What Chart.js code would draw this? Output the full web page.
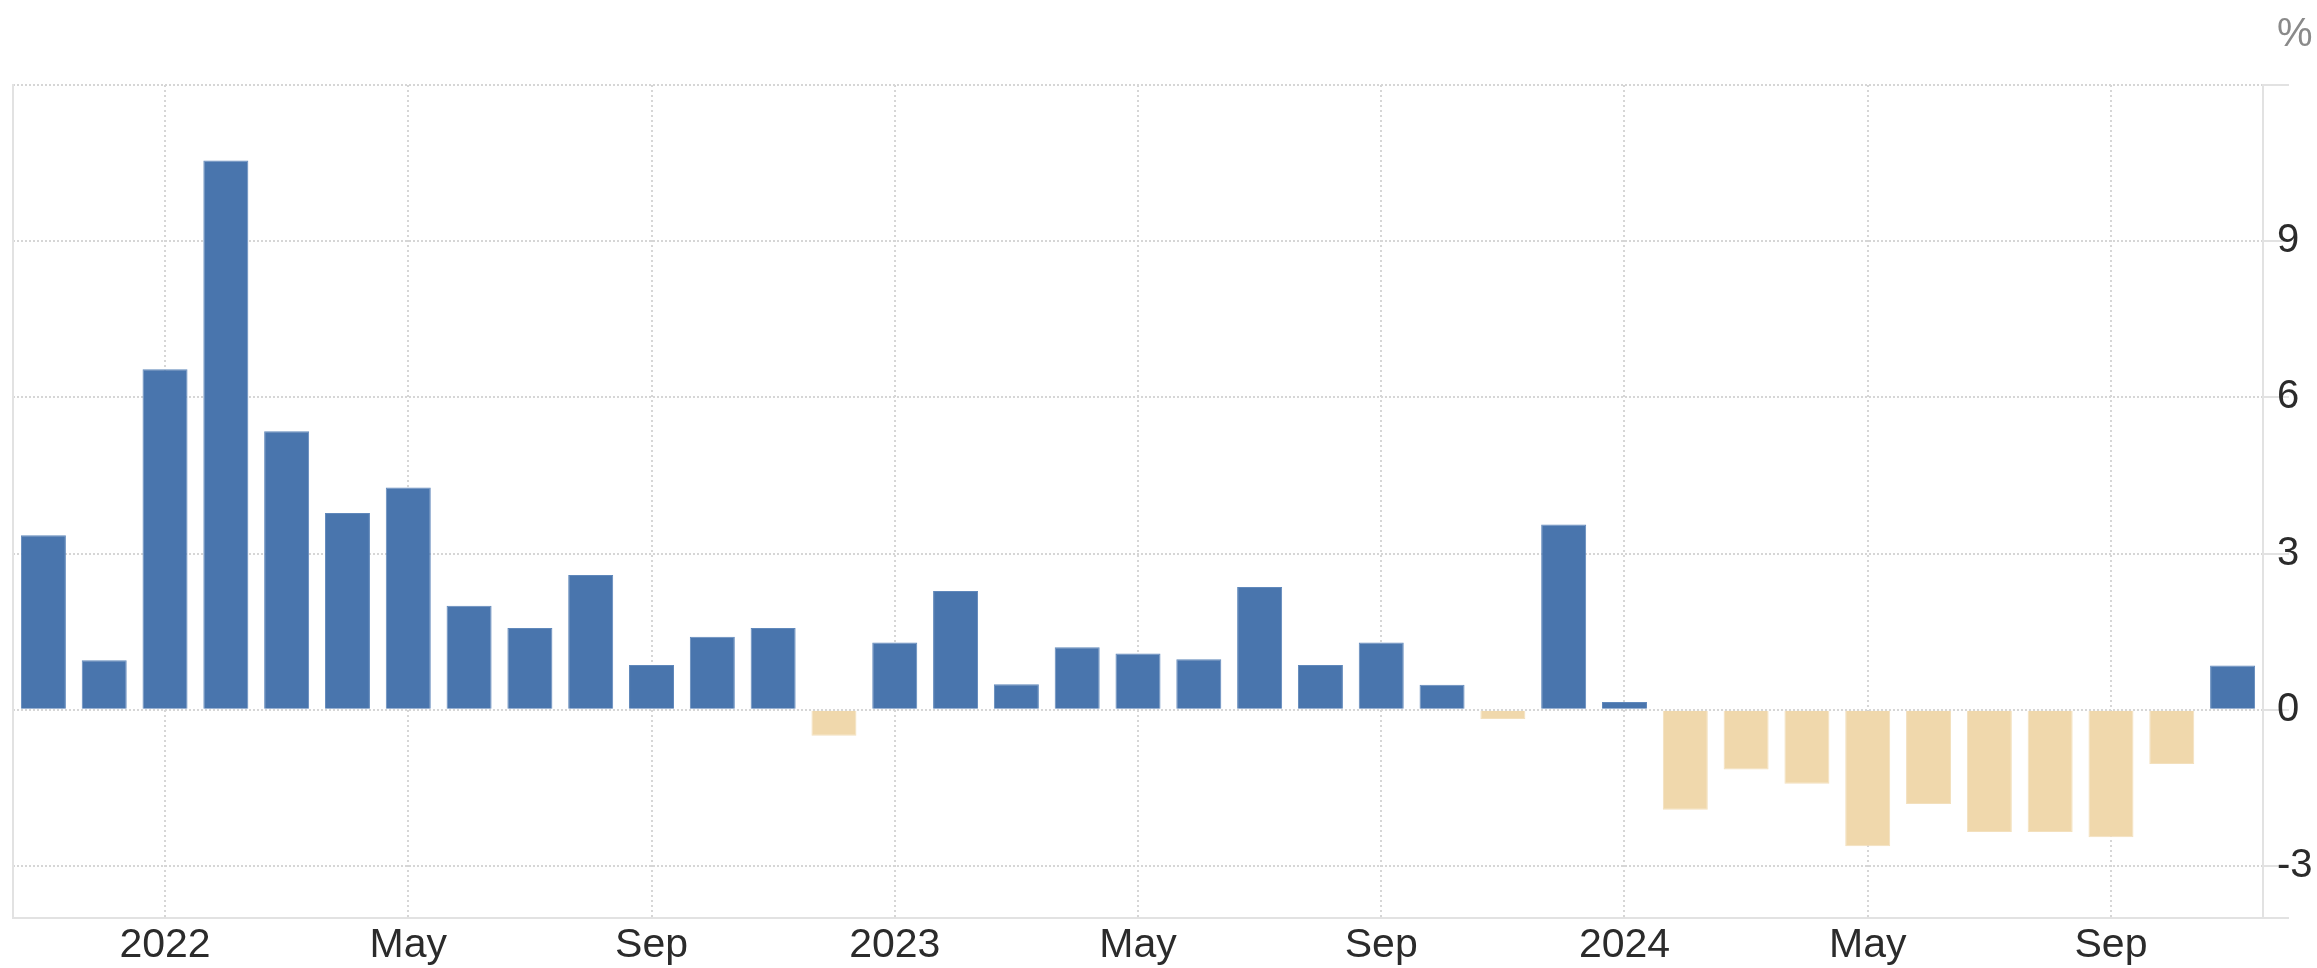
<!DOCTYPE html>
<html>
<head>
<meta charset="utf-8">
<script src="https://cdn.jsdelivr.net/npm/chart.js@4.4.1/dist/chart.umd.min.js"></script>
<style>
  body { margin: 0; background: #fff; }
  canvas { display: block; }
</style>
</head>
<body>
<canvas id="chart" width="2317" height="968"></canvas>
<script>
// monthly change, Nov 2021 .. Nov 2024
var months = [
  '2021-11', '2021-12',
  '2022-01', '2022-02', '2022-03', '2022-04', '2022-05', '2022-06',
  '2022-07', '2022-08', '2022-09', '2022-10', '2022-11', '2022-12',
  '2023-01', '2023-02', '2023-03', '2023-04', '2023-05', '2023-06',
  '2023-07', '2023-08', '2023-09', '2023-10', '2023-11', '2023-12',
  '2024-01', '2024-02', '2024-03', '2024-04', '2024-05', '2024-06',
  '2024-07', '2024-08', '2024-09', '2024-10', '2024-11'
];
var values = [
  3.35, 0.95,
  6.54, 10.55, 5.35, 3.78, 4.27, 2.0,
  1.57, 2.59, 0.86, 1.4, 1.57, -0.5,
  1.29, 2.28, 0.49, 1.2, 1.08, 0.97,
  2.36, 0.86, 1.29, 0.48, -0.18, 3.56,
  0.15, -1.92, -1.15, -1.42, -2.62, -1.81,
  -2.35, -2.35, -2.45, -1.04, 0.85
];
var monthNames = ['Jan', 'Feb', 'Mar', 'Apr', 'May', 'Jun', 'Jul', 'Aug', 'Sep', 'Oct', 'Nov', 'Dec'];
var labelledMonths = ['Jan', 'May', 'Sep'];
var yTicks = [-4, -3, 0, 3, 6, 9, 12];
var yLabelled = [-3, 0, 3, 6, 9];
var unitLabel = '%';

var blue = '#4975ad';
var beige = '#f0d8ac';
var gridColor = '#d6d6d6';
var axisColor = '#e2e2e2';

function xLabel(i) {
  var parts = months[i].split('-');
  var m = monthNames[parseInt(parts[1], 10) - 1];
  if (labelledMonths.indexOf(m) < 0) return '';
  return m == 'Jan' ? parts[0] : m;
}

var unitPlugin = {
  id: 'unitLabel',
  afterDraw: function(chart) {
    var ctx = chart.ctx;
    ctx.save();
    ctx.font = '40px "Liberation Sans", Arial, sans-serif';
    ctx.fillStyle = '#8a8a8a';
    ctx.textAlign = 'left';
    ctx.textBaseline = 'middle';
    ctx.fillText(unitLabel, chart.scales.y.left + 14, 35);
    ctx.restore();
  }
};

var ctx = document.getElementById('chart').getContext('2d');
var chart = new Chart(ctx, {
  type: 'bar',
  data: {
    labels: months,
    datasets: [{
      data: values,
      backgroundColor: values.map(v => v >= 0 ? blue : beige),
      borderColor: values.map(v => v >= 0 ? '#6088bb' : '#f3e0bd'),
      borderWidth: 1,
      barPercentage: 0.74,
      categoryPercentage: 1
    }]
  },
  options: {
    responsive: false,
    animation: false,
    layout: { padding: { left: 13, top: 85, right: 0, bottom: 0 } },
    plugins: {
      legend: { display: false },
      tooltip: { enabled: false }
    },
    scales: {
      x: {
        offset: true,
        grid: {
          offset: false,
          color: (c) => xLabel(c.index) ? gridColor : 'transparent',
          lineWidth: 2,
          tickLength: 0,
          drawTicks: false
        },
        border: { display: true, color: axisColor, width: 2, dash: [2, 3] },
        ticks: {
          autoSkip: false,
          maxRotation: 0,
          padding: 3,
          color: '#2b2b2b',
          font: { family: '"Liberation Sans", Arial, sans-serif', size: 41 },
          callback: function(val, i) { return xLabel(i); }
        },
        afterFit: function(scale) { scale.height = 50; }
      },
      y: {
        position: 'right',
        min: -4,
        max: 12,
        afterBuildTicks: function(scale) {
          scale.ticks = yTicks.map(v => ({ value: v }));
        },
        grid: {
          color: (c) => c.tick && c.tick.value == -4 ? 'transparent' : gridColor,
          lineWidth: 2,
          tickLength: 26,
          tickColor: axisColor,
          tickWidth: 2,
          tickBorderDash: [40, 0]
        },
        border: { display: true, color: axisColor, width: 2, dash: [2, 2] },
        ticks: {
          padding: -12,
          color: '#2b2b2b',
          font: { family: '"Liberation Sans", Arial, sans-serif', size: 40 },
          callback: function(v) { return yLabelled.indexOf(v) >= 0 ? String(v) : ''; }
        },
        afterFit: function(scale) { scale.width = 54; }
      },
      yl: {
        position: 'left',
        min: -4,
        max: 12,
        grid: { display: false },
        ticks: { display: false },
        border: { display: true, color: axisColor, width: 2 },
        afterFit: function(scale) { scale.width = 0; }
      }
    }
  },
  plugins: [unitPlugin]
});
</script>
</body>
</html>
